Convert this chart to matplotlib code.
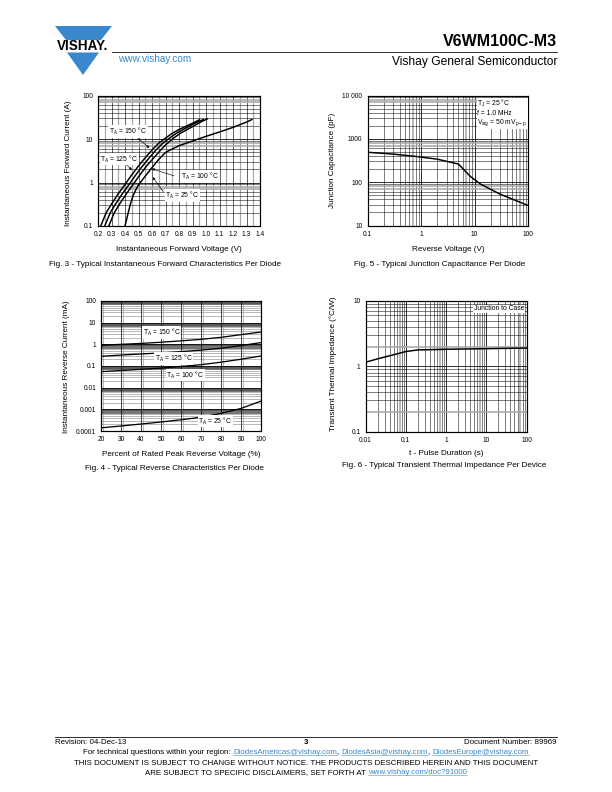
import matplotlib
matplotlib.use('Agg')
import matplotlib.pyplot as plt
from matplotlib.patches import Polygon
import numpy as np

plt.rcParams['font.family'] = ['Liberation Sans', 'DejaVu Sans']

# Fig. 3 - forward characteristics (V, A)
vf_150 = [0.22, 0.26, 0.30, 0.35, 0.40, 0.45, 0.50, 0.55, 0.60, 0.65, 0.70, 0.75, 0.80, 0.85, 0.90, 0.95]
if_150 = [0.1, 0.2, 0.32, 0.55, 0.9, 1.5, 2.4, 3.7, 5.6, 8.0, 10.5, 13.5, 16.5, 19.5, 23.0, 27.5]
vf_125 = [0.25, 0.29, 0.33, 0.38, 0.43, 0.48, 0.53, 0.58, 0.63, 0.68, 0.73, 0.78, 0.83, 0.88, 0.93, 0.98]
if_125 = [0.1, 0.2, 0.32, 0.55, 0.9, 1.5, 2.4, 3.7, 5.6, 8.0, 10.5, 13.5, 16.5, 20.0, 24.0, 28.0]
vf_100 = [0.28, 0.32, 0.36, 0.41, 0.46, 0.51, 0.56, 0.61, 0.66, 0.71, 0.76, 0.81, 0.86, 0.91, 0.96, 1.01]
if_100 = [0.1, 0.2, 0.32, 0.55, 0.9, 1.5, 2.4, 3.6, 5.4, 7.8, 10.5, 13.5, 16.5, 20.0, 24.5, 29.0]
vf_25 = [0.40, 0.42, 0.44, 0.46, 0.48, 0.50, 0.55, 0.60, 0.65, 0.70, 0.75, 0.80, 0.90, 1.00, 1.10, 1.20, 1.30, 1.34]
if_25 = [0.1, 0.18, 0.32, 0.5, 0.68, 0.88, 1.4, 2.2, 3.4, 4.9, 5.9, 7.0, 9.0, 11.5, 14.5, 18.5, 24.5, 28.0]

# Fig. 5 - junction capacitance (V, pF)
vr_cap = [0.1, 0.3, 0.84, 2.0, 5.0, 8.4, 13, 30, 100]
cap_pf = [490, 445, 390, 340, 262, 135, 90, 53, 29]

# Fig. 4 - reverse characteristics (% of VRRM, mA)
pct_vr = [20, 30, 40, 50, 60, 70, 80, 90, 100]
ir_150 = [0.9, 1.0, 1.1, 1.25, 1.45, 1.7, 2.1, 2.8, 3.7]
ir_125 = [0.28, 0.32, 0.36, 0.4, 0.46, 0.54, 0.66, 0.88, 1.2]
ir_100 = [0.055, 0.062, 0.07, 0.08, 0.095, 0.115, 0.15, 0.205, 0.29]
ir_25 = [0.00014, 0.00017, 0.00021, 0.00026, 0.00033, 0.00043, 0.00065, 0.0011, 0.0024]

# Fig. 6 - transient thermal impedance (s, °C/W)
t_pulse = [0.01, 0.02, 0.05, 0.1, 0.2, 0.5, 1, 10, 100]
zth = [1.15, 1.3, 1.5, 1.68, 1.78, 1.8, 1.82, 1.86, 1.9]

W, H = 612, 792
fig = plt.figure(figsize=(W / 72, H / 72), dpi=72)

BLUE = '#3a87cc'
GRAY = '#a8a8a8'
FS_TICK = 6.6
FS_LAB = 8.1
FS_IN = 6.8
FS_FOOT = 7.9


def px(x, y):
    return x / W, 1 - y / H


def add_ax(left, top, right, bottom):
    x0, y1 = px(left, top)
    x1, y0 = px(right, bottom)
    ax = fig.add_axes([x0, y0, x1 - x0, y1 - y0])
    for s in ax.spines.values():
        s.set_linewidth(1.2)
    ax.tick_params(length=0, labelsize=FS_TICK, pad=5)
    return ax


def log_lines(ax, axis, lo, hi, gray=(), lw_major=0.8, lw_minor=0.5):
    line = ax.axhline if axis == 'y' else ax.axvline
    for e in range(lo, hi):
        for m in range(1, 10):
            v = m * 10.0 ** e
            if m == 1:
                line(v, color='black', lw=lw_major, zorder=0)
            elif m in gray:
                line(v, color=GRAY, lw=1.6, zorder=0)
            else:
                line(v, color='black', lw=lw_minor, zorder=0)


def label_box(ax, x, y, txt, **kw):
    return ax.text(x, y, txt, transform=ax.transAxes, fontsize=FS_IN, ha='center', va='center',
                   bbox=dict(boxstyle='square,pad=0.1', fc='white', ec='none'), zorder=5, **kw)


# ---------------- Fig. 3 ----------------
ax3 = add_ax(98, 95.5, 260, 226)
ax3.set_xlim(0.2, 1.4)
ax3.set_yscale('log')
ax3.set_ylim(0.1, 100)
for v in np.arange(0.2, 1.41, 0.1):
    ax3.axvline(v, color='black', lw=0.6, zorder=0)
for v in np.arange(0.25, 1.4, 0.1):
    ax3.axvline(v, color=GRAY, lw=1.2, zorder=0)
log_lines(ax3, 'y', -1, 2, gray=(7, 8))
for vf, i_f in [(vf_150, if_150), (vf_125, if_125), (vf_100, if_100), (vf_25, if_25)]:
    ax3.plot(vf, i_f, color='black', lw=1.5, zorder=3)
ax3.set_xticks(np.round(np.arange(0.2, 1.41, 0.1), 1))
ax3.set_xticklabels([f'{v:.1f}' for v in np.arange(0.2, 1.41, 0.1)])
ax3.set_yticks([0.1, 1, 10, 100])
ax3.set_yticklabels(['0.1', '1', '10', '100'])
ax3.yaxis.set_minor_locator(matplotlib.ticker.NullLocator())
arrow = dict(arrowstyle='-|>', color='black', lw=0.6, mutation_scale=5)
ax3.annotate('', xy=(0.327, 0.588), xytext=(0.22, 0.70), xycoords='axes fraction', arrowprops=arrow, zorder=4)
ax3.annotate('', xy=(0.218, 0.418), xytext=(0.16, 0.49), xycoords='axes fraction', arrowprops=arrow, zorder=4)
ax3.annotate('', xy=(0.321, 0.443), xytext=(0.48, 0.38), xycoords='axes fraction', arrowprops=arrow, zorder=4)
ax3.annotate('', xy=(0.331, 0.387), xytext=(0.41, 0.25), xycoords='axes fraction', arrowprops=arrow, zorder=4)
label_box(ax3, 0.185, 0.723, 'T$_\\mathregular{A}$ = 150 °C')
label_box(ax3, 0.13, 0.514, 'T$_\\mathregular{A}$ = 125 °C')
label_box(ax3, 0.63, 0.379, 'T$_\\mathregular{A}$ = 100 °C')
label_box(ax3, 0.52, 0.234, 'T$_\\mathregular{A}$ = 25 °C')

# ---------------- Fig. 5 ----------------
ax5 = add_ax(367.5, 95.5, 528, 225.5)
ax5.set_xscale('log')
ax5.set_yscale('log')
ax5.set_xlim(0.1, 100)
ax5.set_ylim(10, 10000)
log_lines(ax5, 'x', -1, 2, gray=(7,))
log_lines(ax5, 'y', 1, 4, gray=(7, 8))
ax5.plot(vr_cap, cap_pf, color='black', lw=1.5, zorder=3)
ax5.set_xticks([0.1, 1, 10, 100])
ax5.set_xticklabels(['0.1', '1', '10', '100'])
ax5.set_yticks([10, 100, 1000, 10000])
ax5.set_yticklabels(['10', '100', '1000', '10 000'])
ax5.xaxis.set_minor_locator(matplotlib.ticker.NullLocator())
ax5.yaxis.set_minor_locator(matplotlib.ticker.NullLocator())
ax5.text(0.685, 0.865, 'T$_\\mathregular{J}$ = 25 °C\nf = 1.0 MHz\nV$_\\mathregular{sig}$ = 50 mV$_\\mathregular{p-p}$',
         transform=ax5.transAxes, fontsize=FS_IN, ha='left', va='center', linespacing=1.15,
         bbox=dict(boxstyle='square,pad=0.12', fc='white', ec='none'), zorder=5)

# ---------------- Fig. 4 ----------------
ax4 = add_ax(101, 301, 261, 431)
ax4.set_xlim(20, 100)
ax4.set_yscale('log')
ax4.set_ylim(0.0001, 100)
for v in range(20, 101, 10):
    ax4.axvline(v, color='black', lw=0.7, zorder=1)
    ax4.axvline(v + 1.2, color=GRAY, lw=0.8, zorder=0)
for e in range(-4, 2):
    for m in range(1, 10):
        v = m * 10.0 ** e
        if m == 1:
            ax4.axhline(v, color='black', lw=0.8, zorder=0)
        elif m >= 7:
            ax4.axhline(v, color='#555555', lw=1.6, zorder=0)
        else:
            ax4.axhline(v, color=GRAY, lw=0.8, zorder=0)
for ir in [ir_150, ir_125, ir_100, ir_25]:
    ax4.plot(pct_vr, ir, color='black', lw=1.3, zorder=3)
ax4.set_xticks(list(range(20, 101, 10)))
ax4.set_yticks([0.0001, 0.001, 0.01, 0.1, 1, 10, 100])
ax4.set_yticklabels(['0.0001', '0.001', '0.01', '0.1', '1', '10', '100'])
ax4.yaxis.set_minor_locator(matplotlib.ticker.NullLocator())
label_box(ax4, 0.381, 0.759, 'T$_\\mathregular{A}$ = 150 °C')
label_box(ax4, 0.454, 0.559, 'T$_\\mathregular{A}$ = 125 °C')
label_box(ax4, 0.527, 0.431, 'T$_\\mathregular{A}$ = 100 °C')
label_box(ax4, 0.714, 0.077, 'T$_\\mathregular{A}$ = 25 °C')

# ---------------- Fig. 6 ----------------
ax6 = add_ax(365.5, 301, 526.5, 431.5)
ax6.set_xscale('log')
ax6.set_yscale('log')
ax6.set_xlim(0.01, 100)
ax6.set_ylim(0.1, 10)
log_lines(ax6, 'x', -2, 2, gray=(7,))
log_lines(ax6, 'y', -1, 1, gray=(2,))
ax6.plot(t_pulse, zth, color='black', lw=1.5, zorder=3)
ax6.set_xticks([0.01, 0.1, 1, 10, 100])
ax6.set_xticklabels(['0.01', '0.1', '1', '10', '100'])
ax6.set_yticks([0.1, 1, 10])
ax6.set_yticklabels(['0.1', '1', '10'])
ax6.xaxis.set_minor_locator(matplotlib.ticker.NullLocator())
ax6.yaxis.set_minor_locator(matplotlib.ticker.NullLocator())
ax6.text(0.985, 0.939, 'Junction to Case', transform=ax6.transAxes, fontsize=FS_IN, ha='right', va='center',
         bbox=dict(boxstyle='square,pad=0.12', fc='white', ec='none'), zorder=5)

# axis labels and captions
for (x, y, txt) in [(68, 163, 'Instantaneous Forward Current (A)'),
                    (333, 160, 'Junction Capacitance (pF)'),
                    (67, 367, 'Instantaneous Reverse Current (mA)'),
                    (333, 364, 'Transient Thermal Impedance (°C/W)')]:
    fig.text(*px(x, y), txt, rotation=90, ha='center', va='center', fontsize=FS_LAB)
for (x, y, txt) in [(179, 249.5, 'Instantaneous Forward Voltage (V)'),
                    (448, 249.5, 'Reverse Voltage (V)'),
                    (181, 454, 'Percent of Rated Peak Reverse Voltage (%)'),
                    (446, 453, 't - Pulse Duration (s)')]:
    fig.text(*px(x, y), txt, ha='center', va='center', fontsize=FS_LAB)
for (x, y, txt) in [(165, 264.5, 'Fig. 3 - Typical Instantaneous Forward Characteristics Per Diode'),
                    (440, 264.5, 'Fig. 5 - Typical Junction Capacitance Per Diode'),
                    (174, 469, 'Fig. 4 - Typical Reverse Characteristics Per Diode'),
                    (444, 466, 'Fig. 6 - Typical Transient Thermal Impedance Per Device')]:
    fig.text(*px(x, y), txt, ha='center', va='center', fontsize=FS_LAB)

# header
fig.add_artist(Polygon([px(55, 26), px(112, 26), px(101, 40), px(66, 40)], closed=True, fc=BLUE, ec='none'))
fig.add_artist(Polygon([px(67, 52.5), px(99, 52.5), px(83, 75)], closed=True, fc=BLUE, ec='none'))
fig.text(*px(82.5, 46.5), 'VISHAY.', ha='center', va='center', fontsize=13.5, fontweight='bold')
fig.add_artist(plt.Line2D([112 / W, 557 / W], [1 - 51.5 / H, 1 - 51.5 / H], color='black', lw=0.8))
fig.text(*px(557, 42), 'V6WM100C-M3', ha='right', va='center', fontsize=16, fontweight='bold')
fig.text(*px(118, 58.5), 'www.vishay.com', ha='left', va='center', fontsize=10, color=BLUE)
fig.text(*px(557, 62), 'Vishay General Semiconductor', ha='right', va='center', fontsize=12)

# footer
fig.add_artist(plt.Line2D([55 / W, 557 / W], [1 - 737 / H, 1 - 737 / H], color='black', lw=0.8))
fig.text(*px(55, 742.5), 'Revision: 04-Dec-13', ha='left', va='center', fontsize=FS_FOOT)
fig.text(*px(306, 743), '3', ha='center', va='center', fontsize=FS_FOOT, fontweight='bold')
fig.text(*px(557, 742.5), 'Document Number: 89969', ha='right', va='center', fontsize=FS_FOOT)

r = fig.canvas.get_renderer()


def centered_line(y, parts):
    # parts: list of (text, is_link); draw side by side centered at x=306
    arts = [fig.text(0, 1 - y / H, s, ha='left', va='center', fontsize=FS_FOOT,
                     color=BLUE if link else 'black') for s, link in parts]
    widths = [a.get_window_extent(renderer=r).width for a in arts]
    x = 306 - sum(widths) / 2
    for a, w, (s, link) in zip(arts, widths, parts):
        a.set_x(x / W)
        if link:
            b = a.get_window_extent(renderer=r)
            fig.add_artist(plt.Line2D([x / W, (x + w) / W], [(b.y0 + 0.8) / H] * 2, color=BLUE, lw=0.5))
        x += w


centered_line(752.5, [('For technical questions within your region: ', False), ('DiodesAmericas@vishay.com', True),
                      (', ', False), ('DiodesAsia@vishay.com', True), (', ', False),
                      ('DiodesEurope@vishay.com', True)])
centered_line(763.5, [('THIS DOCUMENT IS SUBJECT TO CHANGE WITHOUT NOTICE. THE PRODUCTS DESCRIBED HEREIN AND THIS DOCUMENT', False)])
centered_line(772.5, [('ARE SUBJECT TO SPECIFIC DISCLAIMERS, SET FORTH AT ', False), ('www.vishay.com/doc?91000', True)])

fig.savefig('out.png', dpi=72)
